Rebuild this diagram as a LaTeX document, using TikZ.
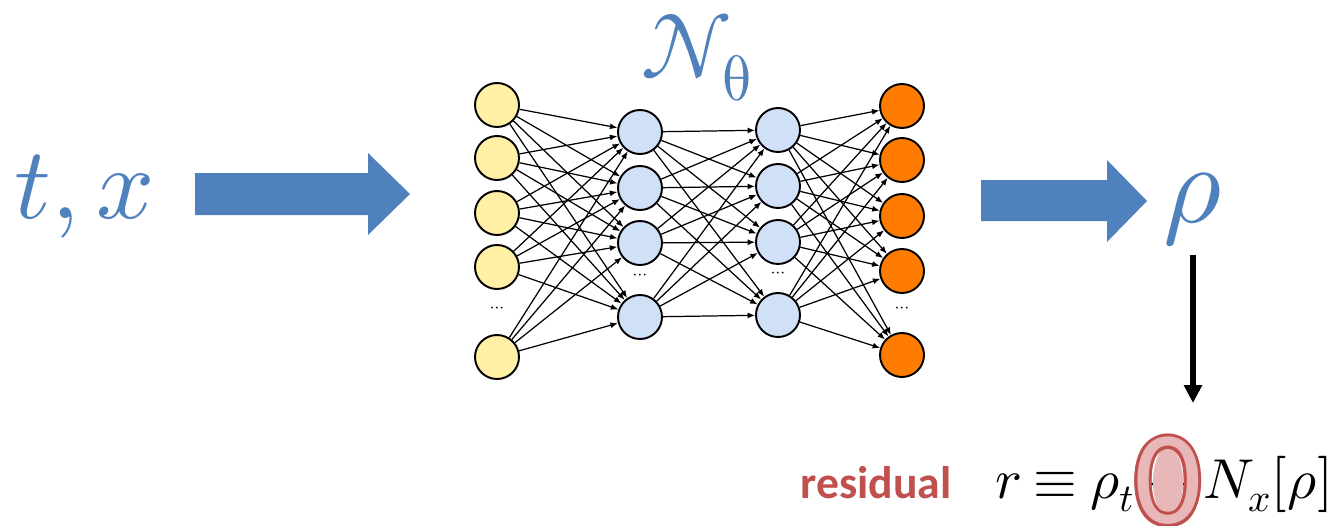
\documentclass[tikz,border=0pt]{standalone}
\usepackage{fontspec}
\usepackage{unicode-math}
\newfontfamily\calibri{Carlito}
\usetikzlibrary{arrows.meta}
\definecolor{pinnblue}{HTML}{4F81BD}
\definecolor{inyellow}{HTML}{FFF0A5}
\definecolor{hidblue}{HTML}{D0E1F7}
\definecolor{outorange}{HTML}{FF7C00}
\definecolor{resred}{HTML}{C0504D}
\definecolor{respink}{HTML}{E8B8B8}
\tikzset{>=latex}
\tikzset{vertex/.style = {shape=circle,draw,line width=1.1pt,minimum size=0.88cm,inner sep=0pt}}
\tikzset{edge/.style = {-{Latex[length=1.5mm,width=1.2mm]}, line width=0.7pt}}
\tikzset{bluetext/.style = {text=pinnblue, inner sep=0pt}}

\begin{document}
\begin{tikzpicture}[x=0.02cm,y=-0.02cm]
  \useasboundingbox (0,0) rectangle (1342,525);

  % inputs and outputs
  \node[bluetext, anchor=base west, font=\fontsize{58}{58}\selectfont] (tx) at (14,218) {$t,x$};
  \fill[pinnblue] (195,173) -- (368,173) -- (368,153) -- (410,194)
    -- (368,235) -- (368,215) -- (195,215) -- cycle;
  \fill[pinnblue] (981,180) -- (1107,180) -- (1107,160) -- (1147,201)
    -- (1107,242) -- (1107,221) -- (981,221) -- cycle;
  \node[bluetext, anchor=base west, font=\fontsize{64}{64}\selectfont] (rho) at (1163,222) {$\rho$};
  \node[bluetext, anchor=base west, font=\fontsize{52}{52}\selectfont] (net) at (640,78) {$\mathcal{N}_{\!\symup{\theta}}$};

  % layers
  \foreach \y [count=\i] in {105,158,213,267,357}
    \node[vertex, fill=inyellow] (i\i) at (497,\y) {};
  \foreach \y [count=\i] in {132,188,243,317}
    \node[vertex, fill=hidblue] (h\i) at (640,\y) {};
  \foreach \y [count=\i] in {130,186,242,315}
    \node[vertex, fill=hidblue] (g\i) at (778,\y) {};
  \foreach \y [count=\i] in {106,160,216,271,355}
    \node[vertex, fill=outorange] (o\i) at (902,\y) {};
  \node (di) at (497,310) {$\cdots$};
  \node (dh) at (640,277) {$\cdots$};
  \node (dg) at (778,275) {$\cdots$};
  \node (do) at (902,310) {$\cdots$};

  % weights
  \foreach \a in {1,...,5}
    \foreach \b in {1,...,4}
      \draw[edge] (i\a) -- (h\b);
  \foreach \a in {1,...,4}
    \foreach \b in {1,...,4}
      \draw[edge] (h\a) -- (g\b);
  \foreach \a in {1,...,4}
    \foreach \b in {1,...,5}
      \draw[edge] (g\a) -- (o\b);

  % residual
  \coordinate (rend) at (1193,403);
  \draw[line width=3pt, -{Triangle[length=0.36cm,width=0.35cm]}] (rend |- 0,255) -- (rend);
  \node[anchor=base west, inner sep=0pt, text=resred, font=\calibri\bfseries\fontsize{26}{26}\selectfont] (reslbl) at (800,498) {residual};
  \node[anchor=base west, inner sep=0pt, font=\fontsize{32}{32}\selectfont] (res) at (995,498)
    {\thickmuskip=4mu $r \equiv \rho_t + N_x[\rho]$};
  \fill[respink] (1168,482) ellipse [x radius=0.3cm, y radius=0.7cm];
  \foreach \t in {0,22.5,...,359}
    \node[text=resred, inner sep=0pt, font=\calibri\fontsize{76}{76}\selectfont] at ([shift={(\t:0.06cm)}]1168,481) {0};
  \node[text=respink, inner sep=0pt, font=\calibri\fontsize{76}{76}\selectfont] (zero) at (1168,481) {0};
\end{tikzpicture}
\end{document}
